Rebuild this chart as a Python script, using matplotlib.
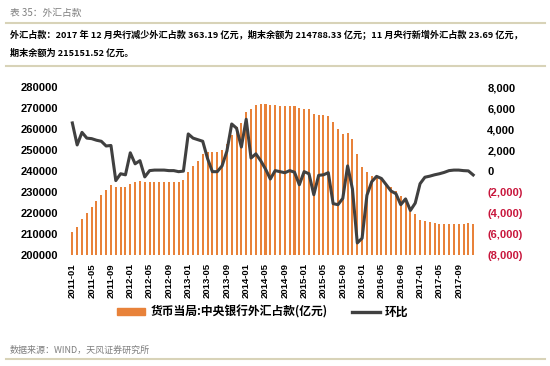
import matplotlib
matplotlib.use("Agg")
import matplotlib.pyplot as plt
from matplotlib.ticker import FuncFormatter, MultipleLocator
from matplotlib.lines import Line2D
from matplotlib.patches import Patch

plt.rcParams['font.family'] = ['Noto Sans CJK SC', 'DejaVu Sans']

# months 2011-01 .. 2017-12
months = ['%d-%02d' % (y, m) for y in range(2011, 2018) for m in range(1, 13)]

# 货币当局:中央银行外汇占款 (亿元)
fx_balance = [211100, 213500, 217000, 219800, 223000, 225900, 228600, 231000, 233200, 232500, 232300, 232200,
              234100, 234600, 235400, 234900, 235000, 235000, 235000, 235000, 235000, 235000, 235000, 236000,
              239400, 242400, 244800, 248100, 249200, 249200, 249200, 250000, 252900, 257100, 261100, 263000,
              268200, 269800, 271400, 271900, 271900, 271400, 271400, 271300, 271200, 271200, 271100, 269900,
              269800, 269500, 267300, 266900, 266600, 266400, 263300, 260100, 257700, 258000, 255300, 248300,
              241800, 239500, 237800, 236900, 236100, 234500, 232600, 230700, 228000, 225600, 222300, 219400,
              216900, 216200, 215600, 215200, 214900, 214800, 214800, 214800, 214800, 214800, 215151, 214788]

# 环比 (亿元)
mom_change = [4600, 2500, 3700, 3150, 3100, 2950, 2850, 2400, 2450, -900, -250, -350,
              1750, 700, 1000, -550, 50, 100, 100, 100, 50, 50, -50, 0,
              3550, 3150, 3000, 2850, 1200, -50, -50, 500, 1900, 4500, 4100, 2300,
              4950, 1250, 1650, 1000, 200, -750, 50, -50, -150, 50, -100, -1300,
              -50, -250, -2250, -400, -350, -150, -3100, -3200, -2600, 500, -1700, -6850,
              -6400, -2300, -1000, -500, -700, -1300, -1900, -2150, -3200, -2650, -3750, -3050,
              -1200, -580, -480, -350, -250, -120, 50, 100, 100, 50, 24, -363]

tick_idx = list(range(0, 81, 4))
tick_labels = [months[i] for i in tick_idx]

orange = '#E8823A'
gray = '#404040'
red = '#C8163C'
num_font = 'Liberation Sans'

fig = plt.figure(figsize=(5.5, 3.66), dpi=100)
ax = fig.add_axes([0.1236, 0.3033, 0.742, 0.4582])
x = list(range(len(months)))
ax.bar(x, fx_balance, width=0.42, color=orange, zorder=2)
ax.set_ylim(200000, 280000)
ax.set_xlim(-0.9, 83.6)
ax.yaxis.set_major_locator(MultipleLocator(10000))
ax.set_xticks(tick_idx)
ax.set_xticklabels(tick_labels, rotation=90, fontsize=6.8, fontweight='bold', family=num_font)
for t in ax.get_yticklabels():
    t.set_fontsize(8)
    t.set_fontweight('bold')
    t.set_family(num_font)
ax.tick_params(axis='both', length=0)
ax.tick_params(axis='y', pad=7)
ax.tick_params(axis='x', pad=6)
for s in ax.spines.values():
    s.set_visible(False)

ax2 = ax.twinx()
ax2.plot(x, mom_change, color=gray, lw=2.2, zorder=3)
ax2.set_ylim(-8000, 8000)
ax2.yaxis.set_major_locator(MultipleLocator(2000))
ax2.yaxis.set_major_formatter(FuncFormatter(
    lambda v, p: '0' if v == 0 else ('{:,.0f}'.format(v) if v > 0 else '({:,.0f})'.format(-v))))
ax2.tick_params(axis='y', length=0, pad=8)
for t, v in zip(ax2.get_yticklabels(), ax2.get_yticks()):
    t.set_fontsize(8)
    t.set_fontweight('bold')
    t.set_family(num_font)
    if v < 0:
        t.set_color(red)
for s in ax2.spines.values():
    s.set_visible(False)

# legend
handles = [Patch(color=orange), Line2D([0], [0], color=gray, lw=2.4)]
fig.legend(handles, ['货币当局:中央银行外汇占款(亿元)', '环比'], loc='center',
           bbox_to_anchor=(0.478, 1 - 312 / 366), ncol=2, frameon=False,
           prop={'family': ['Noto Sans CJK SC'], 'weight': 'bold', 'size': 8.5},
           handlelength=2.4, handleheight=0.45, columnspacing=2.1, handletextpad=0.4)

# header / footer
line_col = '#D8D3B8'
for yy in [1 - 22.7 / 366, 1 - 65.7 / 366, 1 - 359.3 / 366]:
    fig.add_artist(Line2D([0.01, 0.99], [yy, yy], transform=fig.transFigure, color=line_col, lw=1.5))

fig.text(0.018, 1 - 12.7 / 366, '表 35：外汇占款', fontsize=7, color='#7F7F7F', va='center')
fig.text(0.018, 1 - 35.3 / 366,
         '外汇占款：2017 年 12 月央行减少外汇占款 363.19 亿元，期末余额为 214788.33 亿元；11 月央行新增外汇占款 23.69 亿元，',
         fontsize=6.6, fontweight='bold', color='black', va='center')
fig.text(0.018, 1 - 53 / 366, '期末余额为 215151.52 亿元。', fontsize=6.6, fontweight='bold', color='black', va='center')
fig.text(0.018, 1 - 350 / 366, '数据来源：WIND，天风证券研究所', fontsize=6.5, color='#7F7F7F', va='center')

fig.savefig('out.png', dpi=100, facecolor='white')
